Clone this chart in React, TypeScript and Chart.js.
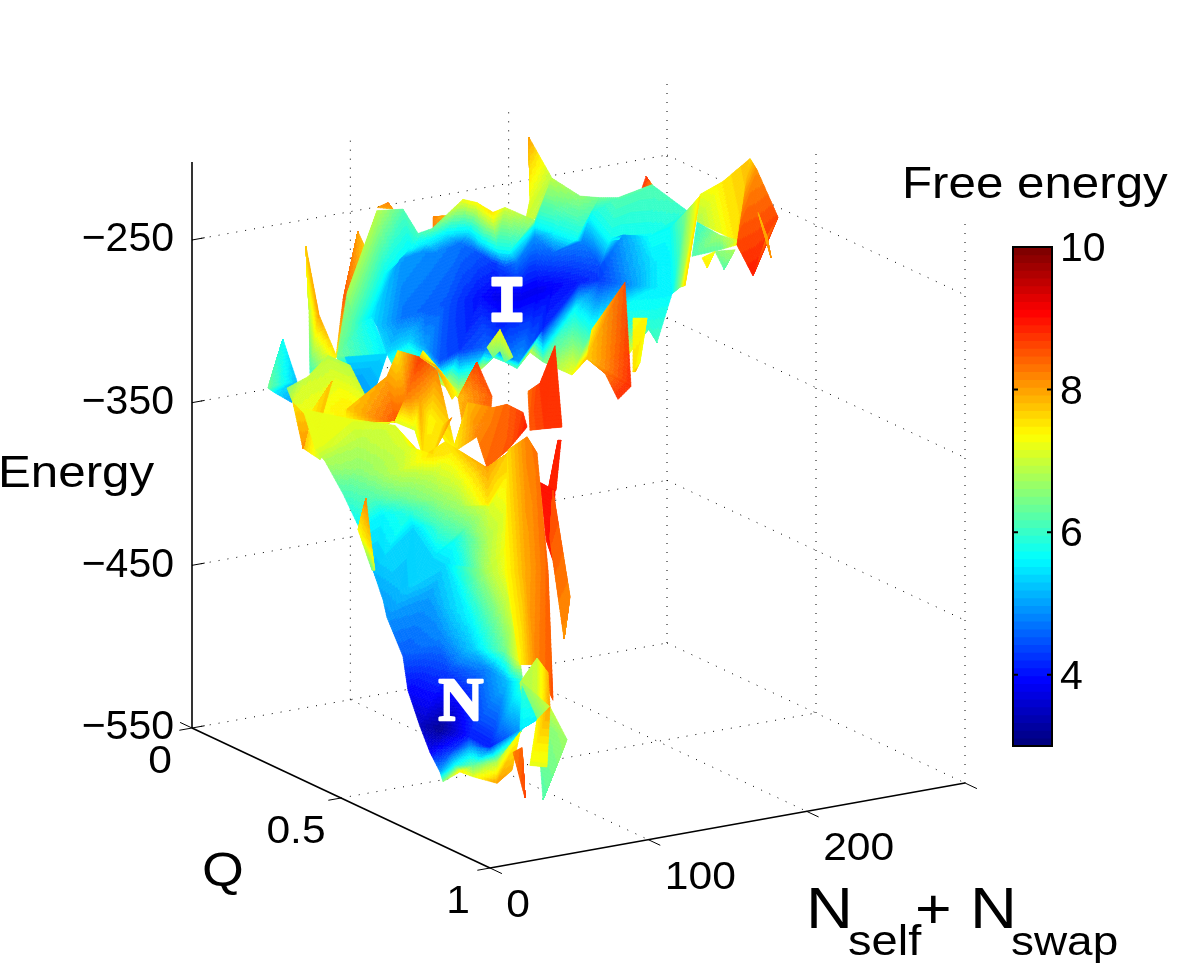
import React, { useEffect, useRef } from "react";
import { Chart, registerables } from "chart.js";

Chart.register(...registerables);

type V = [number, number, number]; // projected position, apparent energy, free energy

const energyTicks = [-550, -450, -350, -250];
const qTicks = [0, 0.5, 1];
const nTicks = [0, 100, 200];
const freeEnergyTicks = [4, 6, 8, 10];

const farTipA: V[][] = [[[377, -230, 8], [393, -231, 8]], [[388, -227, 8.2], [388, -227, 8.2]]];
const farTipB: V[][] = [[[433, -243, 8.3], [447, -235, 7.8]], [[433, -236, 8.2], [433, -236, 8.2]]];
const farTipC: V[][] = [[[642, -218, 8.7], [652, -216, 8.2]], [[646, -211, 8.8], [646, -211, 8.8]]];
const leftSpike: V[][] = [[[306, -254, 7.5], [306, -254, 7.8]], [[309, -293, 6.9], [319, -296, 8]], [[310, -332, 6], [337, -322, 7.5]]];
const orangeStrip: V[][] = [[[358, -245, 8.5], [358, -245, 8]], [[343, -287, 8.5], [377, -270, 7.2]], [[336, -322, 7.5], [378, -287, 6.5]]];
const backSpike: V[][] = [[[529, -187, 8.3], [529, -187, 8]], [[530, -225, 7.2], [552, -212, 6.9]], [[525, -240, 7], [575, -225, 6.6]]];
const leftGreen: V[][] = [[[347, -283, 6.6], [372, -297, 5.6]], [[337, -322, 6.4], [387, -320, 5.5]], [[340, -327, 5.8], [370, -351, 5.2]]];

const upperBand: V[][] = [
  [[347, -283, 6.8], [377, -232, 6.9], [403, -231, 6.2], [418, -246, 6.1], [432, -243, 6.3], [463, -225, 7.3], [477, -227, 7.4], [493, -233, 7.6], [505, -230, 7.1], [535, -238, 6.7], [552, -212, 6.9], [580, -223, 6.6], [600, -224, 6.4], [618, -224, 6.2], [652, -216, 6.2], [687, -232, 6.0]],
  [[357, -302, 6.0], [385, -271, 5.7], [410, -256, 5.6], [428, -252, 5.5], [445, -247, 5.5], [468, -246, 5.4], [482, -252, 5.5], [497, -256, 5.7], [510, -257, 5.7], [535, -241, 5.7], [555, -245, 5.7], [577, -250, 5.7], [590, -235, 5.7], [610, -250, 5.7], [650, -248, 5.7], [670, -243, 5.7]],
  [[372, -297, 5.5], [400, -262, 5.0], [420, -258, 4.9], [437, -258, 4.8], [460, -252, 4.7], [478, -258, 4.5], [493, -264, 4.3], [505, -267, 4.4], [517, -264, 4.7], [535, -248, 4.9], [553, -258, 4.6], [582, -251, 4.8], [600, -267, 4.4], [623, -247, 5.0], [655, -265, 5.5], [672, -266, 5.6]],
  [[377, -303, 5.3], [403, -297, 4.7], [425, -294, 4.6], [445, -290, 4.5], [465, -287, 4.2], [480, -285, 4.0], [497, -285, 3.8], [510, -285, 3.8], [522, -285, 3.8], [538, -281, 3.8], [553, -279, 3.9], [580, -276, 4.1], [600, -275, 4.3], [625, -278, 4.8], [655, -279, 5.5], [672, -283, 5.6]],
  [[387, -320, 5.4], [410, -311, 5.3], [425, -316, 5.0], [440, -325, 4.5], [460, -318, 4.3], [487, -316, 4.6], [500, -318, 4.5], [510, -323, 4.8], [520, -325, 5.0], [530, -316, 4.6], [543, -305, 4.2], [575, -292, 5.6], [592, -305, 5.8], [602, -299, 5.8], [647, -303, 5.9], [657, -313, 6.1]],
  [[395, -330, 6.5], [415, -330, 6.6], [430, -335, 6.7], [445, -340, 7.2], [458, -347, 7.3], [480, -330, 7.0], [493, -322, 6.2], [505, -325, 6.0], [517, -329, 6.2], [530, -319, 7.0], [543, -325, 6.4], [572, -333, 7.3], [587, -323, 7.8], [625, -323, 7.6], [650, -304, 6.0], [657, -313, 6.1]],
];
const frontPeak: V[][] = [[[487, -316, 6.8], [500, -305, 7.3], [513, -322, 6.9]], [[493, -322, 6.4], [500, -318, 6.6], [505, -325, 6.2]]];
const orangeFin: V[][] = [[[592, -305, 7.4], [625, -276, 8.5]], [[587, -323, 7.7], [631, -340, 8.8]], [[605, -332, 8.3], [618, -348, 8.8]]];
const yellowFin: V[][] = [[[633, -298, 7.3], [647, -298, 7.4]], [[633, -331, 7.6], [640, -325, 7.3]], [[635, -331, 7.8], [635, -331, 7.8]]];

const yellowFold: V[][] = [[[700, -222, 7.2], [723, -214, 7.5], [750, -200, 7.8]], [[697, -239, 6.8], [735, -250, 7.5], [745, -253, 7.9]]];
const rightGreen: V[][] = [[[697, -239, 5.9], [720, -247, 6.7], [737, -250, 7.2]], [[692, -260, 6.2], [720, -256, 6.3], [737, -253, 7.4]]];
const rightGreenFin: V[][] = [[[715, -257, 6.5], [735, -256, 6.8]], [[724, -268, 6.2], [724, -268, 6.2]]];
const rightYellowFin: V[][] = [[[702, -261, 7.4], [715, -257, 7.2]], [[707, -267, 7.5], [707, -267, 7.5]]];
const rightCyan: V[][] = [[[670, -243, 5.7], [687, -232, 6.5], [700, -223, 7.5]], [[672, -283, 5.6], [680, -279, 6.5], [685, -278, 7.6]]];
const orangeRight: V[][] = [[[750, -200, 7.6], [757, -207, 8.1], [778, -236, 8.6]], [[737, -253, 8.6], [753, -272, 8.9], [767, -248, 8.3]]];
const thinStrip: V[][] = [[[758, -233, 7.8], [767, -248, 8]], [[771, -261, 8.1], [771, -261, 8.1]]];

const leftCyanSpike: V[][] = [[[283, -311, 5.9], [283, -311, 5.7]], [[268, -341, 6.4], [297, -337, 5.2]], [[275, -344, 5.5], [292, -350, 5.0]]];
const cyanUnder: V[][] = [[[345, -322, 5.4], [387, -320, 5.4]], [[355, -336, 5.0], [370, -351, 5.0]]];
const midRidge: V[][] = [
  [[287, -341, 6.6], [308, -334, 7], [328, -321, 6.9], [350, -327, 6.9]],
  [[293, -350, 7.1], [320, -354, 7.3], [347, -354, 7.5], [368, -349, 7.2]],
  [[303, -378, 7.8], [320, -385, 7], [345, -364, 7.2], [360, -373, 7]],
];
const midOrangeFold: V[][] = [[[332, -337, 8.1], [332, -337, 7.8]], [[308, -359, 7.4], [318, -367, 7.8]]];
const leftOrangeEdge: V[][] = [[[293, -350, 7.6], [310, -361, 7.8]], [[303, -378, 8.1], [303, -378, 8.1]]];

const hump: V[][] = [
  [[373, -348, 8], [387, -334, 8], [398, -318, 7.5], [420, -322, 8.7], [437, -330, 8.2], [457, -383, 7.4]],
  [[347, -354, 7.7], [395, -362, 8.5], [405, -348, 8.2], [420, -348, 8.0], [430, -361, 7.4], [443, -364, 7.6]],
  [[345, -364, 7.2], [395, -362, 7.2], [415, -367, 7.1], [423, -383, 7.6], [433, -382, 7.6], [452, -359, 8.1]],
];
const humpEdge: V[][] = [[[423, -318, 7.3], [440, -330, 7.3], [457, -344, 7.3]], [[420, -322, 7.8], [435, -327, 8], [452, -348, 7.6]]];
const secondPeak: V[][] = [[[477, -325, 8.7], [477, -325, 8.7]], [[458, -347, 7.8], [492, -346, 8.5]], [[463, -365, 8], [490, -361, 8.2]]];
const centreOrange: V[][] = [
  [[463, -365, 7.8], [468, -350, 7.8], [493, -353, 8.2], [507, -351, 8.4], [523, -356, 8.7]],
  [[452, -381, 7.4], [477, -371, 8.2], [487, -390, 8.4], [508, -379, 8.5], [527, -365, 8.9]],
];
const redFin: V[][] = [[[528, -343, 8.3], [540, -338, 8.7], [555, -315, 8.7]], [[530, -367, 8.5], [545, -366, 8.7], [562, -365, 8.8]]];
const thinRedSpike: V[][] = [[[558, -373, 8.8], [561, -373, 8.8]], [[548, -404, 8.8], [556, -404, 8.8]]];
const redStrip: V[][] = [[[540, -399, 9], [555, -404, 9]], [[546, -434, 8.9], [553, -447, 8.9]]];
const backOrangeFin: V[][] = [[[553, -404, 8.6], [553, -404, 8.6]], [[550, -434, 8.5], [570, -469, 8.2]], [[564, -495, 8.1], [564, -495, 8.1]]];

const stemUpper: V[][] = [
  [[303, -354, 7.2], [350, -360, 7.2], [395, -364, 7.1], [423, -383, 7.7], [445, -374, 7.5], [487, -390, 8], [508, -381, 7.7]],
  [[315, -378, 7.2], [360, -373, 6.9], [408, -377, 7.1], [433, -382, 7.6], [453, -381, 7.5], [487, -390, 8], [508, -381, 7.7]],
  [[325, -386, 6.8], [360, -391, 6.6], [397, -393, 6.9], [433, -393, 7], [458, -399, 7.1], [488, -413, 7.5], [510, -391, 7.6]],
  [[343, -406, 6.1], [373, -408, 6.2], [403, -408, 6.4], [437, -410, 6.6], [460, -414, 6.7], [490, -414, 7.1], [513, -408, 7.4]],
  [[360, -428, 5.6], [383, -419, 5.6], [410, -418, 5.9], [440, -426, 6.1], [467, -426, 6.4], [487, -434, 6.8], [513, -426, 7.4]],
  [[373, -453, 5.2], [385, -444, 5.4], [413, -427, 5.4], [433, -445, 5.4], [457, -434, 5.8], [493, -453, 7.0], [513, -434, 7.5]],
  [[383, -471, 5.0], [400, -465, 5.2], [417, -459, 5.4], [445, -449, 5.4], [465, -462, 5.7], [487, -453, 6.8], [517, -455, 7.5]],
];
const stemLower: V[][] = [
  [[383, -471, 5], [417, -459, 5.4], [445, -449, 5.4], [487, -453, 6.8], [517, -455, 7.5]],
  [[387, -482, 4.9], [430, -468, 5.0], [470, -482, 5.6], [503, -476, 6.8], [517, -471, 7.4]],
  [[403, -506, 4.5], [440, -494, 4.8], [473, -501, 5.3], [505, -502, 6.4], [520, -508, 7.3]],
  [[408, -527, 3.9], [447, -516, 4.3], [487, -514, 4.8], [507, -521, 5.2], [523, -522, 6.0]],
  [[420, -549, 3.5], [440, -551, 3.2], [470, -555, 4.1], [490, -562, 4.1], [522, -551, 5.0]],
  [[430, -565, 3.9], [450, -565, 4.3], [470, -562, 5.0], [490, -563, 4.6], [522, -551, 5.2]],
  [[440, -577, 5], [455, -573, 5.7], [473, -573, 6.3], [497, -571, 6.8], [520, -553, 7.3]],
  [[443, -583, 6.5], [460, -577, 7.5], [473, -580, 7.2], [497, -584, 8], [512, -576, 7.9]],
];
const stemLeftFin: V[][] = [[[366, -409, 8.2], [366, -409, 8.2]], [[358, -428, 7.4], [372, -440, 7.6]], [[372, -453, 6.3], [375, -453, 7]]];
const yellowOrangeFin: V[][] = [
  [[508, -379, 7.6], [527, -371, 8.2], [537, -381, 8.3]],
  [[505, -453, 7.3], [525, -453, 7.9], [548, -453, 8.4]],
  [[520, -511, 7.4], [537, -511, 8.2], [553, -533, 8.5]],
];
const upperGreenFacet: V[][] = [[[520, -522, 6.8], [537, -507, 7.0], [548, -516, 7.8]], [[522, -530, 6.8], [537, -545, 7.0], [550, -537, 8]]];
const greenFin: V[][] = [[[522, -522, 6.6], [550, -537, 7]], [[537, -545, 6.4], [567, -557, 6.7]], [[543, -594, 6.2], [543, -594, 6.2]]];
const cyanFacet: V[][] = [[[522, -524, 6], [537, -545, 5.6]], [[520, -551, 5.5], [520, -551, 5.5]]];
const yellowFacet: V[][] = [[[537, -545, 7.4], [550, -537, 8]], [[530, -573, 7.2], [547, -574, 7.2]]];
const lowOrangeFin: V[][] = [[[513, -565, 8.2], [522, -562, 8.4]], [[525, -593, 8.6], [525, -593, 8.6]]];

const surfacePatches: V[][][] = [
  farTipA, farTipB, farTipC, leftSpike, orangeStrip, backSpike, leftGreen, upperBand, frontPeak, orangeFin, yellowFin,
  yellowFold, rightGreen, rightGreenFin, rightYellowFin, rightCyan, orangeRight, thinStrip,
  leftCyanSpike, cyanUnder, midRidge, midOrangeFold, leftOrangeEdge, hump, humpEdge, secondPeak,
  redFin, thinRedSpike, redStrip, backOrangeFin, centreOrange, stemUpper, stemLower, stemLeftFin, yellowOrangeFin,
  upperGreenFacet, greenFin, cyanFacet, yellowFacet, lowOrangeFin,
];

const clamp = (v: number) => Math.max(0, Math.min(1, v));
const jetLevels: string[] = [];
for (let i = 0; i < 64; i++) {
  const t = i / 63;
  jetLevels.push(`rgb(${Math.round(255 * clamp(1.5 - Math.abs(4 * t - 3)))},${Math.round(255 * clamp(1.5 - Math.abs(4 * t - 2)))},${Math.round(255 * clamp(1.5 - Math.abs(4 * t - 1)))})`);
}
const jet = (f: number) => jetLevels[Math.max(0, Math.min(63, Math.floor(((f - 3) / 7) * 64)))];

const project = (q: number, n: number, e: number) => ({ x: 192 + 298 * q + (475 * n) / 300, y: e - 86.07 * q + (52.25 * n) / 300 });

const dotted = { borderColor: "#000", borderWidth: 1, borderDash: [1, 8], pointRadius: 0, showLine: true, fill: false };
const solid = { borderColor: "#000", borderWidth: 1.6, pointRadius: 0, showLine: true, fill: false };
const eMin = -550, eTop = -202, nMax = 300;

const line = (style: object, a: number[], b: number[]) => ({ type: "scatter", ...style, data: [project(a[0], a[1], a[2]), project(b[0], b[1], b[2])] });

function gridLines() {
  const out: object[] = [];
  for (const e of energyTicks) {
    out.push(line(dotted, [0, 0, e], [0, nMax, e]));
    out.push(line(dotted, [0, nMax, e], [1, nMax, e]));
  }
  for (const n of [100, 200]) {
    out.push(line(dotted, [0, n, eMin], [1, n, eMin]));
    out.push(line(dotted, [0, n, eMin], [0, n, eTop]));
  }
  out.push(line(dotted, [0.5, 0, eMin], [0.5, nMax, eMin]));
  out.push(line(dotted, [0, nMax, eMin], [0, nMax, eTop]));
  out.push(line(dotted, [0.5, nMax, eMin], [0.5, nMax, eTop]));
  out.push(line(dotted, [1, nMax, eMin], [1, nMax, eTop]));
  return out;
}
function axisLines() {
  const out: object[] = [];
  out.push(line(solid, [0, 0, eMin], [0, 0, eTop]));
  out.push(line(solid, [0, 0, eMin], [1, 0, eMin]));
  out.push(line(solid, [1, 0, eMin], [1, nMax, eMin]));
  const thin = { ...solid, borderWidth: 1 };
  for (const e of energyTicks) out.push(line(thin, [0, 0, e], [0, 8, e]));
  for (const q of qTicks) out.push(line(thin, [q, 0, eMin], [q, -8, eMin]));
  for (const n of [...nTicks, nMax]) out.push(line(thin, [1, n, eMin], [1.04, n, eMin]));
  out.push(line(thin, [0, 0, eMin], [-0.04, 0, eMin]));
  return out;
}

const surfacePlugin = {
  id: "surfaceMesh",
  afterDatasetsDraw(chart: any) {
    const ctx: CanvasRenderingContext2D = chart.ctx;
    ctx.save();
    ctx.lineWidth = 0.6;
    ctx.lineJoin = "round";
    const tri = (a: any, b: any, c: any) => {
      const edge = Math.max(Math.hypot(a.x - b.x, a.y - b.y), Math.hypot(a.x - c.x, a.y - c.y), Math.hypot(b.x - c.x, b.y - c.y));
      const s = Math.max(1, Math.min(30, Math.ceil(edge / 4)));
      const at = (i: number, j: number) => {
        const u = i / s, v = j / s, w = 1 - u - v;
        return { x: a.x * w + b.x * u + c.x * v, y: a.y * w + b.y * u + c.y * v, f: a.f * w + b.f * u + c.f * v };
      };
      const cell = (p: any, q: any, r: any) => {
        const col = jet((p.f + q.f + r.f) / 3);
        ctx.fillStyle = col;
        ctx.strokeStyle = col;
        ctx.beginPath();
        ctx.moveTo(p.x, p.y);
        ctx.lineTo(q.x, q.y);
        ctx.lineTo(r.x, r.y);
        ctx.closePath();
        ctx.fill();
        ctx.stroke();
      };
      for (let i = 0; i < s; i++) {
        for (let j = 0; j < s - i; j++) {
          cell(at(i, j), at(i + 1, j), at(i, j + 1));
          if (i + j < s - 1) cell(at(i + 1, j), at(i + 1, j + 1), at(i, j + 1));
        }
      }
    };
    chart.data.datasets.forEach((ds: any, idx: number) => {
      if (!ds.meshCols) return;
      const els = chart.getDatasetMeta(idx).data;
      const cols = ds.meshCols;
      const rows = els.length / cols;
      const v = (r: number, c: number) => {
        const k = r * cols + c;
        return { x: els[k].x, y: els[k].y, f: ds.data[k].f };
      };
      for (let r = 0; r < rows - 1; r++) {
        for (let c = 0; c < cols - 1; c++) {
          tri(v(r, c), v(r, c + 1), v(r + 1, c));
          tri(v(r, c + 1), v(r + 1, c + 1), v(r + 1, c));
        }
      }
    });
    ctx.restore();

    const sx = chart.scales.x, sy = chart.scales.y, sc = chart.scales.yC;
    ctx.save();
    ctx.strokeStyle = "#000";
    ctx.lineWidth = 2;
    const bx0 = sx.getPixelForValue(1013), bx1 = sx.getPixelForValue(1052);
    ctx.strokeRect(bx0, sc.getPixelForValue(10), bx1 - bx0, sc.getPixelForValue(3) - sc.getPixelForValue(10));
    for (const f of [4, 6, 8]) {
      const y = sc.getPixelForValue(f);
      ctx.beginPath();
      ctx.moveTo(bx0, y); ctx.lineTo(bx0 + 5, y);
      ctx.moveTo(bx1 - 5, y); ctx.lineTo(bx1, y);
      ctx.stroke();
    }
    ctx.restore();

    ctx.save();
    ctx.fillStyle = "#000";
    ctx.textBaseline = "alphabetic";
    const sans = '"Liberation Sans", Arial, sans-serif';
    const txt = (text: string, x: number, y: number, size: number, align: CanvasTextAlign = "left") => {
      ctx.save();
      ctx.translate(x, y);
      ctx.scale(1.12, 1);
      ctx.font = `${size}px ${sans}`;
      ctx.textAlign = align;
      ctx.fillText(text, 0, 0);
      ctx.restore();
    };
    const label = (text: string, q: number, n: number, dx: number, dy: number) => {
      const p = project(q, n, eMin);
      txt(text, sx.getPixelForValue(p.x) + dx, sy.getPixelForValue(p.y) + dy, 38, "center");
    };
    qTicks.forEach((q) => label(String(q), q, 0, q === 0.5 ? -45 : -32, 45));
    nTicks.forEach((n) => label(String(n), 1, n, n === 0 ? 28 : 52, 49));
    txt("Free energy", 902, 198, 44);
    txt("Energy", -2, 487, 44);
    txt("Q", 202, 886, 48);
    txt("N", 806, 928, 58);
    txt("N", 970, 928, 58);
    txt("self", 848, 955, 42);
    txt("swap", 1011, 955, 41);
    txt("+", 915, 928, 56);
    ctx.fillStyle = "#fff";
    ctx.strokeStyle = "#fff";
    ctx.lineJoin = "round";
    ctx.lineWidth = 2.5;
    ctx.textAlign = "center";
    ctx.font = `bold 64px "Liberation Mono", monospace`;
    ctx.fillText("I", 507, 321);
    ctx.strokeText("I", 507, 321);
    ctx.font = `bold 62px "Liberation Serif", serif`;
    ctx.fillText("N", 461, 720);
    ctx.strokeText("N", 461, 720);
    ctx.restore();
  },
};

const noAutoPad = (s: any, width: number) => {
  s.width = width;
  s.paddingTop = 0;
  s.paddingBottom = 0;
  s.paddingLeft = 0;
  s.paddingRight = 0;
};

export default function App() {
  const ref = useRef<HTMLCanvasElement>(null);
  useEffect(() => {
    const meshes = surfacePatches.map((rows) => ({
      type: "scatter",
      meshCols: rows[0].length,
      showLine: false,
      pointRadius: 0,
      data: rows.flat().map(([x, y, f]) => ({ x, y, f })),
    }));
    const barLevels = jetLevels.map((color, i) => ({ color, lo: 3 + (i * 7) / 64, hi: 3 + ((i + 1) * 7) / 64 }));
    const colorBar = {
      type: "bar",
      yAxisID: "yC",
      barThickness: 39,
      grouped: false,
      backgroundColor: barLevels.map((l) => l.color),
      data: barLevels.map((l) => ({ x: 1032.5, y: [l.lo, Math.min(10, l.hi + 0.02)] })),
    };
    const chart = new Chart(ref.current as HTMLCanvasElement, {
      type: "scatter",
      data: { datasets: [...gridLines(), ...axisLines(), ...meshes, colorBar] as any },
      options: {
        animation: false,
        responsive: false,
        devicePixelRatio: 1,
        layout: { padding: 0, autoPadding: false },
        plugins: { legend: { display: false }, tooltip: { enabled: false }, title: { display: false } },
        scales: {
          x: { type: "linear", display: false, min: 176, max: 1060, offset: false },
          y: {
            type: "linear",
            position: "left",
            min: -703.07,
            max: -102.46,
            grid: { display: false, drawTicks: false },
            border: { display: false },
            afterFit: (s: any) => noAutoPad(s, 176),
            afterBuildTicks: (s: any) => { s.ticks = energyTicks.map((value) => ({ value })); },
            ticks: {
              padding: 2,
              autoSkip: false,
              color: "#000",
              font: { family: '"Liberation Sans", Arial, sans-serif', size: 41 },
              callback: (v: any) => String(v).replace("-", "\u2212"),
            },
          },
          yC: {
            type: "linear",
            position: "right",
            min: -0.2405,
            max: 13.465,
            grid: { display: false, drawTicks: false },
            border: { display: false },
            afterFit: (s: any) => noAutoPad(s, 140),
            afterBuildTicks: (s: any) => { s.ticks = freeEnergyTicks.map((value) => ({ value })); },
            ticks: {
              padding: 0,
              autoSkip: false,
              color: "#000",
              labelOffset: 3,
              font: { family: '"Liberation Sans", Arial, sans-serif', size: 41 },
            },
          },
        },
      } as any,
      plugins: [surfacePlugin],
    });
    return () => chart.destroy();
  }, []);
  return (
    <div style={{ position: "fixed", left: 0, top: 0, width: 1200, height: 977, background: "#fff" }}>
      <canvas ref={ref} width={1200} height={977} style={{ display: "block" }} />
    </div>
  );
}
